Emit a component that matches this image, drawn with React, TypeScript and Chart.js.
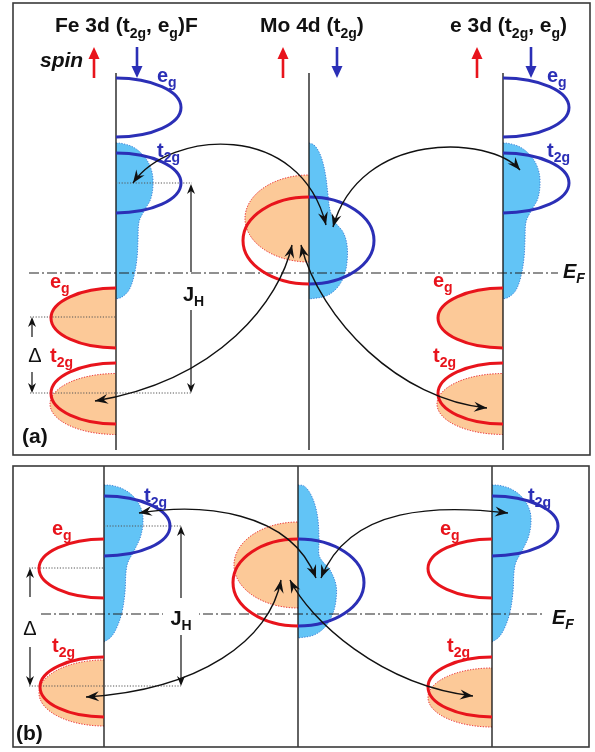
import React, { useEffect, useRef } from "react";
import { Chart, registerables } from "chart.js";

Chart.register(...registerables);

const FONT = '"Liberation Sans", Arial, Helvetica, sans-serif';
const BLUE = "#2b2fb6";
const RED = "#e8141c";
const ORANGE = "#fcc998";
const SKY = "#62c4f6";
const SKY_EDGE = "#3b7fd6";
const INK = "#111111";

// ---- frames [x0, y0, x1, y1]
const FRAME_A = [13, 3, 590, 455];
const FRAME_B = [13, 466, 589, 747];

// ---- vertical energy axes: x positions and y extent
const AXES_A_X = [116, 309, 503];
const AXES_A_Y = [73, 450];
const AXES_B_X = [104, 298, 492];
const AXES_B_Y = [466, 747];

// ---- Fermi level lines [x0, x1, y]
const EF_A = [29, 558, 273];
const EF_B = [41, 545, 614];

// ---- dotted guide lines [x0, x1, y]
const GUIDES_A = [[116, 192, 183], [30, 116, 317], [30, 192, 393]];
const GUIDES_B = [[104, 181, 526], [29, 104, 568], [29, 181, 686]];

// ---- half-ellipse levels [cx, cy, rx, ry]
const BLUE_LEVELS_A = [[116, 107.5, 65, 29.5], [116, 183, 65, 30], [309, 240.5, 65, 43.5], [503, 107.5, 66, 29.5], [503, 183, 66, 30]];
const RED_LEVELS_A = [[116, 318, 65, 30], [116, 393.5, 65, 30.5], [309, 240.5, 66, 43.5], [503, 318, 65, 30], [503, 393.5, 65, 30.5]];
const ORANGE_LEVELS_A = [[116, 318, 65, 30], [116, 404, 66, 30.5], [309, 218.5, 64, 43.5], [503, 318, 65, 30], [503, 404, 66, 30.5]];
const BLUE_LEVELS_B = [[104, 526, 66, 30], [298, 582.5, 66, 43.5], [492, 526, 66, 30]];
const RED_LEVELS_B = [[104, 568.5, 65, 29.5], [104, 687, 64, 30], [298, 582.5, 65, 43.5], [492, 568.5, 64, 29.5], [492, 687, 64, 30]];
const ORANGE_LEVELS_B = [[104, 693, 65, 33], [298, 565, 64, 43], [492, 697.5, 64, 29.5]];

// ---- spin-down density-of-states profiles [width from axis, energy y]
const FE_DOS_A = [[0, 143], [6, 143.5], [17, 147], [27, 155], [34, 166], [37, 180], [35, 198], [28, 211], [23, 222], [22, 240], [21, 258], [18, 276], [13, 290], [6, 297], [0, 299]];
const MO_DOS_A = [[0, 143], [5, 145], [10, 152], [14, 163], [17, 178], [19, 195], [21, 210], [26, 222], [34, 232], [38, 245], [38, 262], [35, 276], [28, 288], [17, 296], [0, 299]];
const FE_DOS_B = [[0, 485], [8, 485.5], [19, 489], [29, 496], [36, 506], [39, 518], [37, 535], [30, 551], [24, 562], [22, 572], [21, 592], [18, 612], [13, 627], [7, 637], [0, 642]];
const MO_DOS_B = [[0, 485], [6, 486], [12, 493], [17, 505], [20, 520], [21, 540], [21, 555], [25, 562], [32, 570], [38, 585], [38, 600], [35, 613], [28, 626], [16, 635], [0, 638]];

// ---- spin arrows: x of up (red) and down (blue) arrows, y span
const SPIN_UP_X = [94, 283, 477];
const SPIN_DOWN_X = [137, 337, 531];
const SPIN_Y = [47, 78];

// ---- hopping arrows: cubic curves [x0,y0, c1x,c1y, c2x,c2y, x1,y1]
const HOPS_A = [
  [133, 183, 170, 130, 300, 120, 326, 225],
  [520, 170, 490, 135, 360, 130, 333, 227],
  [292, 245, 280, 300, 220, 380, 95, 401],
  [301, 245, 320, 320, 400, 400, 487, 408],
];
const HOPS_B = [
  [139, 513, 200, 503, 290, 510, 316, 578],
  [508, 513, 440, 505, 350, 505, 321, 578],
  [281, 580, 270, 640, 200, 690, 86, 697],
  [290, 580, 310, 620, 380, 685, 473, 696],
];

// ---- straight arrows [x, yTail, yTip]
const GAP_ARROWS = [
  [32, 337, 317], [32, 372, 393],
  [191, 272, 184], [191, 310, 393],
  [30, 597, 568], [30, 647, 686],
  [181, 598, 526], [181, 635, 686],
];

// ---- white masks behind J_H labels [x0, y0, x1, y1]
const MASKS = [[178, 276, 206, 309], [163, 598, 199, 634]];

// ---- text labels
type Part = [string, number?];
type Label = { x: number; y: number; parts: Part[]; size: number; color: string; italic?: boolean; bold?: boolean; center?: boolean };
const LABELS: Label[] = [
  { x: 55, y: 32, parts: [["Fe 3d (t"], ["2g", 1], [", e"], ["g", 1], [")F"]], size: 21, color: INK },
  { x: 260, y: 32, parts: [["Mo 4d (t"], ["2g", 1], [")"]], size: 21, color: INK },
  { x: 450, y: 32, parts: [["e 3d (t"], ["2g", 1], [", e"], ["g", 1], [")"]], size: 21, color: INK },
  { x: 40, y: 67, parts: [["spin"]], size: 21, color: INK, italic: true },
  { x: 157, y: 82, parts: [["e"], ["g", 1]], size: 20, color: BLUE },
  { x: 157, y: 157, parts: [["t"], ["2g", 1]], size: 20, color: BLUE },
  { x: 547, y: 82, parts: [["e"], ["g", 1]], size: 20, color: BLUE },
  { x: 547, y: 157, parts: [["t"], ["2g", 1]], size: 20, color: BLUE },
  { x: 50, y: 288, parts: [["e"], ["g", 1]], size: 20, color: RED },
  { x: 50, y: 362, parts: [["t"], ["2g", 1]], size: 20, color: RED },
  { x: 433, y: 287, parts: [["e"], ["g", 1]], size: 20, color: RED },
  { x: 433, y: 362, parts: [["t"], ["2g", 1]], size: 20, color: RED },
  { x: 35, y: 362, parts: [["Δ"]], size: 20, color: INK, bold: false, center: true },
  { x: 183, y: 301, parts: [["J"], ["H", 1]], size: 20, color: INK },
  { x: 563, y: 278, parts: [["E"], ["F", 1]], size: 20, color: INK, italic: true },
  { x: 22, y: 443, parts: [["(a)"]], size: 21, color: INK },
  { x: 144, y: 502, parts: [["t"], ["2g", 1]], size: 20, color: BLUE },
  { x: 528, y: 502, parts: [["t"], ["2g", 1]], size: 20, color: BLUE },
  { x: 52, y: 535, parts: [["e"], ["g", 1]], size: 20, color: RED },
  { x: 52, y: 652, parts: [["t"], ["2g", 1]], size: 20, color: RED },
  { x: 440, y: 535, parts: [["e"], ["g", 1]], size: 20, color: RED },
  { x: 447, y: 652, parts: [["t"], ["2g", 1]], size: 20, color: RED },
  { x: 30, y: 635, parts: [["Δ"]], size: 20, color: INK, bold: false, center: true },
  { x: 181, y: 625, parts: [["J"], ["H", 1]], size: 20, color: INK, center: true },
  { x: 552, y: 624, parts: [["E"], ["F", 1]], size: 20, color: INK, italic: true },
  { x: 16, y: 740, parts: [["(b)"]], size: 21, color: INK },
];

function seg(x0: number, y0: number, x1: number, y1: number, color: string, width: number, dash: number[]) {
  return {
    type: "line",
    data: [{ x: x0, y: y0 }, { x: x1, y: y1 }],
    borderColor: color,
    borderWidth: width,
    borderDash: dash,
    pointRadius: 0,
    fill: false,
    tension: 0,
    order: 1,
  };
}

function dos(profile: number[][], axisX: number) {
  return {
    type: "line",
    data: profile.map(([w, y]) => ({ x: axisX + w, y })),
    borderColor: SKY_EDGE,
    borderWidth: 1,
    borderDash: [1.2, 1.5],
    backgroundColor: SKY,
    fill: "shape",
    tension: 0.35,
    pointRadius: 0,
    order: 10,
  };
}

function buildDatasets() {
  const ds: any[] = [];
  ds.push(dos(FE_DOS_A, AXES_A_X[0]), dos(MO_DOS_A, AXES_A_X[1]), dos(FE_DOS_A, AXES_A_X[2]));
  ds.push(dos(FE_DOS_B, AXES_B_X[0]), dos(MO_DOS_B, AXES_B_X[1]), dos(FE_DOS_B, AXES_B_X[2]));
  for (const g of [...GUIDES_A, ...GUIDES_B]) ds.push(seg(g[0], g[2], g[1], g[2], "#555555", 1, [1.2, 1.6]));
  ds.push(seg(EF_A[0], EF_A[2], EF_A[1], EF_A[2], "#222222", 1.2, [10, 3, 2, 3]));
  ds.push(seg(EF_B[0], EF_B[2], EF_B[1], EF_B[2], "#222222", 1.2, [10, 3, 2, 3]));
  for (const x of AXES_A_X) ds.push(seg(x, AXES_A_Y[0], x, AXES_A_Y[1], INK, 1.3, []));
  for (const x of AXES_B_X) ds.push(seg(x, AXES_B_Y[0], x, AXES_B_Y[1], INK, 1.3, []));
  return ds;
}

function halfEllipsePath(ctx: CanvasRenderingContext2D, X: (v: number) => number, Y: (v: number) => number, e: number[], right: boolean) {
  const [cx, cy, rx, ry] = e;
  const px = X(cx), py = Y(cy);
  const prx = Math.abs(X(cx + rx) - px), pry = Math.abs(Y(cy + ry) - py);
  ctx.beginPath();
  if (right) ctx.ellipse(px, py, prx, pry, 0, -Math.PI / 2, Math.PI / 2);
  else ctx.ellipse(px, py, prx, pry, 0, Math.PI / 2, (3 * Math.PI) / 2);
}

function arrowHead(ctx: CanvasRenderingContext2D, tx: number, ty: number, ang: number, len: number, half: number, notch: number) {
  const c = Math.cos(ang), s = Math.sin(ang);
  ctx.beginPath();
  ctx.moveTo(tx, ty);
  ctx.lineTo(tx - len * c + half * s, ty - len * s - half * c);
  ctx.lineTo(tx - len * notch * c, ty - len * notch * s);
  ctx.lineTo(tx - len * c - half * s, ty - len * s + half * c);
  ctx.closePath();
  ctx.fill();
}

function drawLabel(ctx: CanvasRenderingContext2D, X: (v: number) => number, Y: (v: number) => number, l: Label) {
  const style = `${l.italic ? "italic " : ""}${l.bold === false ? "" : "bold "}`;
  const main = `${style}${l.size}px ${FONT}`;
  const sub = `${style}${Math.round(l.size * 0.68)}px ${FONT}`;
  let total = 0;
  for (const [t, s] of l.parts) {
    ctx.font = s ? sub : main;
    total += ctx.measureText(t).width;
  }
  let cx = X(l.x) - (l.center ? total / 2 : 0);
  const by = Y(l.y);
  ctx.fillStyle = l.color;
  ctx.textAlign = "left";
  ctx.textBaseline = "alphabetic";
  for (const [t, s] of l.parts) {
    ctx.font = s ? sub : main;
    ctx.fillText(t, cx, s ? by + l.size * 0.27 : by);
    cx += ctx.measureText(t).width;
  }
}

const diagramPlugin = {
  id: "diagram",
  beforeDatasetsDraw(chart: any) {
    const ctx: CanvasRenderingContext2D = chart.ctx;
    const X = (v: number) => chart.scales.x.getPixelForValue(v);
    const Y = (v: number) => chart.scales.y.getPixelForValue(v);
    ctx.save();
    ctx.fillStyle = "#ffffff";
    ctx.fillRect(0, 0, chart.width, chart.height);
    for (const e of [...ORANGE_LEVELS_A, ...ORANGE_LEVELS_B]) {
      halfEllipsePath(ctx, X, Y, e, false);
      ctx.closePath();
      ctx.fillStyle = ORANGE;
      ctx.fill();
      halfEllipsePath(ctx, X, Y, e, false);
      ctx.strokeStyle = RED;
      ctx.lineWidth = 1;
      ctx.setLineDash([1.2, 1.5]);
      ctx.stroke();
    }
    ctx.restore();
  },
  afterDatasetsDraw(chart: any) {
    const ctx: CanvasRenderingContext2D = chart.ctx;
    const X = (v: number) => chart.scales.x.getPixelForValue(v);
    const Y = (v: number) => chart.scales.y.getPixelForValue(v);
    ctx.save();
    ctx.setLineDash([]);
    // frames
    ctx.strokeStyle = "#3a3a3a";
    ctx.lineWidth = 1.6;
    for (const f of [FRAME_A, FRAME_B]) {
      ctx.strokeRect(X(f[0]), Y(f[1]), X(f[2]) - X(f[0]), Y(f[3]) - Y(f[1]));
    }
    // level outlines
    ctx.lineWidth = 3;
    ctx.strokeStyle = RED;
    for (const e of [...RED_LEVELS_A, ...RED_LEVELS_B]) {
      halfEllipsePath(ctx, X, Y, e, false);
      ctx.stroke();
    }
    ctx.strokeStyle = BLUE;
    for (const e of [...BLUE_LEVELS_A, ...BLUE_LEVELS_B]) {
      halfEllipsePath(ctx, X, Y, e, true);
      ctx.stroke();
    }
    // masks
    ctx.fillStyle = "#ffffff";
    for (const m of MASKS) ctx.fillRect(X(m[0]), Y(m[1]), X(m[2]) - X(m[0]), Y(m[3]) - Y(m[1]));
    // straight gap arrows
    ctx.strokeStyle = INK;
    ctx.fillStyle = INK;
    ctx.lineWidth = 1.2;
    for (const [x, y0, y1] of GAP_ARROWS) {
      const px = X(x), p0 = Y(y0), p1 = Y(y1);
      const dir = p1 > p0 ? 1 : -1;
      ctx.beginPath();
      ctx.moveTo(px, p0);
      ctx.lineTo(px, p1 - dir * 6);
      ctx.stroke();
      arrowHead(ctx, px, p1, dir > 0 ? Math.PI / 2 : -Math.PI / 2, 10, 4, 0.7);
    }
    // hopping arrows
    ctx.lineWidth = 1.4;
    for (const h of [...HOPS_A, ...HOPS_B]) {
      const p = h.map((v, i) => (i % 2 === 0 ? X(v) : Y(v)));
      ctx.beginPath();
      ctx.moveTo(p[0], p[1]);
      ctx.bezierCurveTo(p[2], p[3], p[4], p[5], p[6], p[7]);
      ctx.stroke();
      arrowHead(ctx, p[6], p[7], Math.atan2(p[7] - p[5], p[6] - p[4]), 13, 5, 0.65);
      arrowHead(ctx, p[0], p[1], Math.atan2(p[1] - p[3], p[0] - p[2]), 13, 5, 0.65);
    }
    // spin arrows
    ctx.lineWidth = 2.6;
    for (const x of SPIN_UP_X) {
      const px = X(x), top = Y(SPIN_Y[0]), bot = Y(SPIN_Y[1]);
      ctx.strokeStyle = RED;
      ctx.fillStyle = RED;
      ctx.beginPath();
      ctx.moveTo(px, bot);
      ctx.lineTo(px, top + 8);
      ctx.stroke();
      arrowHead(ctx, px, top, -Math.PI / 2, 12, 5.5, 1);
    }
    for (const x of SPIN_DOWN_X) {
      const px = X(x), top = Y(SPIN_Y[0]), bot = Y(SPIN_Y[1]);
      ctx.strokeStyle = BLUE;
      ctx.fillStyle = BLUE;
      ctx.beginPath();
      ctx.moveTo(px, top);
      ctx.lineTo(px, bot - 8);
      ctx.stroke();
      arrowHead(ctx, px, bot, Math.PI / 2, 12, 5.5, 1);
    }
    // labels
    for (const l of LABELS) drawLabel(ctx, X, Y, l);
    ctx.restore();
  },
};

export default function App() {
  const ref = useRef<HTMLCanvasElement | null>(null);
  useEffect(() => {
    if (!ref.current) return;
    const chart = new Chart(ref.current, {
      type: "line",
      data: { datasets: buildDatasets() as any },
      options: {
        animation: false,
        responsive: false,
        devicePixelRatio: 1,
        layout: { padding: 0 },
        scales: {
          x: { type: "linear", min: 0, max: 595, display: false },
          y: { type: "linear", min: 0, max: 752, reverse: true, display: false },
        },
        plugins: { legend: { display: false }, tooltip: { enabled: false } },
        elements: { line: { capBezierPoints: false } },
      } as any,
      plugins: [diagramPlugin as any],
    });
    return () => chart.destroy();
  }, []);
  return (
    <div style={{ position: "absolute", left: 0, top: 0, width: 595, height: 752, background: "#fff" }}>
      <canvas ref={ref} width={595} height={752} style={{ display: "block" }} />
    </div>
  );
}
